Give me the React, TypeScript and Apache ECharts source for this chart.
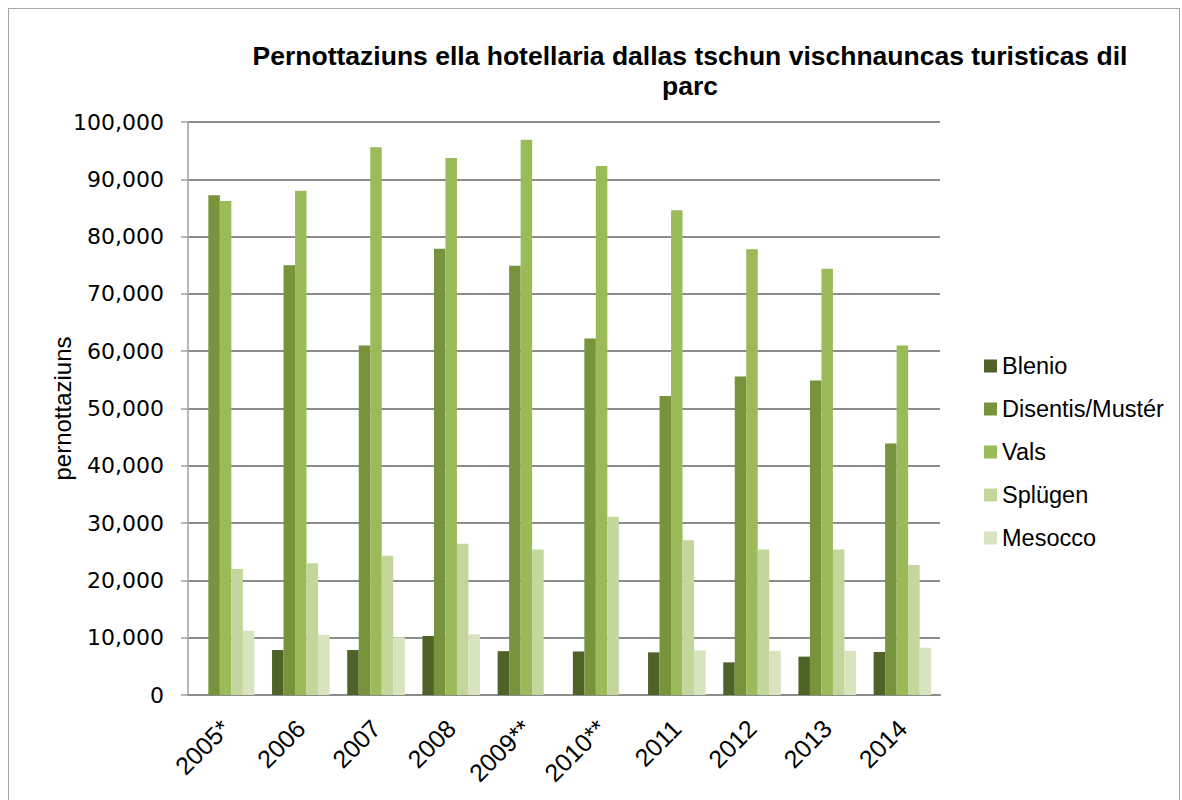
import React, { useEffect, useRef } from "react";
import * as echarts from "echarts";

const titleText = "Pernottaziuns ella hotellaria dallas tschun vischnauncas turisticas dil\nparc";
const yAxisName = "pernottaziuns";
const years = ["2005*", "2006", "2007", "2008", "2009**", "2010**", "2011", "2012", "2013", "2014"];
const seriesNames = ["Blenio", "Disentis/Mustér", "Vals", "Splügen", "Mesocco"];
const blenio = [null, 7850, 7850, 10300, 7650, 7600, 7450, 5700, 6700, 7500];
const disentis = [87200, 75000, 61000, 77900, 74900, 62200, 52200, 55600, 54900, 43900];
const vals = [86200, 88000, 95600, 93700, 96900, 92300, 84600, 77800, 74400, 61000];
const spluegen = [22000, 23000, 24300, 26400, 25400, 31100, 27000, 25400, 25400, 22700];
const mesocco = [11200, 10500, 10100, 10600, null, null, 7800, 7700, 7700, 8250];
const colors = ["#4f6228", "#77933c", "#9bbb59", "#c3d69b", "#d7e4bd"];

export default function App() {
  const ref = useRef<HTMLDivElement>(null);
  useEffect(() => {
    if (!ref.current) return;
    const chart = echarts.init(ref.current, null, { renderer: "svg" });
    const allData = [blenio, disentis, vals, spluegen, mesocco];
    chart.setOption({
      animation: false,
      backgroundColor: "#ffffff",
      title: {
        text: titleText,
        left: 676,
        top: 27,
        textAlign: "center",
        textStyle: {
          fontFamily: "Liberation Sans, Arial, sans-serif",
          fontWeight: "bold",
          fontSize: 26.5,
          lineHeight: 30,
          color: "#000",
        },
      },
      legend: {
        orient: "vertical",
        left: 970,
        top: 340,
        itemWidth: 13,
        itemHeight: 13,
        itemGap: 19,
        icon: "rect",
        data: seriesNames,
        textStyle: {
          fontFamily: "Liberation Sans, Arial, sans-serif",
          fontSize: 23.5,
          lineHeight: 23,
          color: "#000",
        },
      },
      grid: { left: 179, top: 113, width: 752, height: 573, containLabel: false },
      xAxis: {
        type: "category",
        data: years,
        axisLine: { show: true, lineStyle: { color: "#8c8c8c", width: 2 } },
        axisTick: { show: false },
        axisLabel: {
          rotate: 45,
          margin: 29,
          interval: 0,
          fontFamily: "Liberation Sans, Arial, sans-serif",
          fontSize: 25,
          color: "#000",
        },
      },
      yAxis: {
        type: "value",
        min: 0,
        max: 100000,
        interval: 10000,
        name: yAxisName,
        nameLocation: "middle",
        nameGap: 114,
        nameMoveOverlap: false,
        nameTextStyle: {
          fontFamily: "Liberation Sans, Arial, sans-serif",
          fontSize: 24,
          color: "#000",
        },
        axisLine: { show: true, lineStyle: { color: "#a0a0a0", width: 1.5 } },
        axisTick: { show: true, length: 7, lineStyle: { color: "#a0a0a0", width: 1.5 } },
        axisLabel: {
          margin: 24,
          fontFamily: "DejaVu Sans, Verdana, sans-serif",
          fontSize: 22,
          color: "#000",
          formatter: (v: number) => v.toLocaleString("en-US"),
        },
        splitLine: { show: true, lineStyle: { color: "#8c8c8c", width: 2 } },
      },
      series: seriesNames.map((name, i) => ({
        name,
        type: "bar",
        data: allData[i],
        barGap: "0%",
        barCategoryGap: "23.5%",
        itemStyle: { color: colors[i] },
      })),
    });
    return () => chart.dispose();
  }, []);
  return (
    <div
      ref={ref}
      style={{
        position: "fixed",
        left: 8,
        top: 8,
        width: 1172,
        height: 830,
        border: "1px solid #a6a6a6",
        boxSizing: "border-box",
      }}
    />
  );
}
